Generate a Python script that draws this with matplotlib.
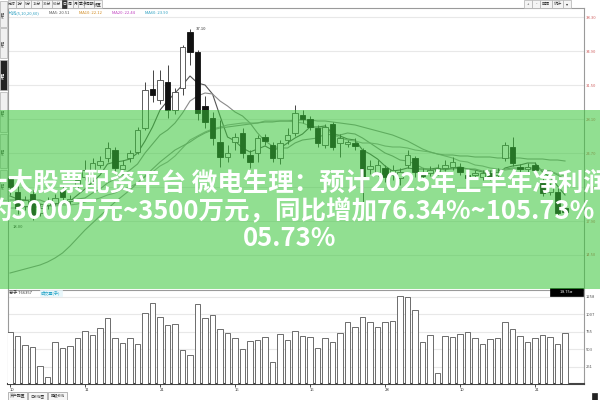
import matplotlib
matplotlib.use("Agg")
import matplotlib.pyplot as plt
from matplotlib.patches import Rectangle
import numpy as np

plt.rcParams['font.family'] = ['Noto Sans CJK SC', 'DejaVu Sans']

# 日K 数据 (开, 收, 高, 低)
opens = [22.2, 20.8, 19.4, 20.6, 18.7, 19.5, 19.7, 21.0, 19.9, 21.4,
         22.3, 23.0, 23.5, 24.2, 25.0, 23.1, 24.2, 24.8, 27.2, 31.1,
         30.0, 31.8, 29.0, 31.2, 36.8, 34.8, 29.4, 28.2, 25.8, 24.3,
         25.8, 26.7, 24.5, 24.7, 26.3, 25.5, 24.2, 26.0, 26.7, 28.5,
         28.1, 27.2, 25.5, 27.6, 25.7, 25.6, 25.7, 25.0, 23.1, 22.8,
         23.2, 22.5, 22.2, 23.5, 24.2, 22.8, 22.7, 22.8, 23.2, 23.3,
         23.3, 22.5, 22.5, 22.3, 22.7, 22.5, 24.2, 25.3, 23.3, 23.1,
         23.5, 21.7, 20.8, 20.8, 19.2]
closes = [21.3, 19.2, 20.0, 18.5, 19.2, 19.9, 20.2, 20.3, 20.1, 22.0,
          23.0, 23.7, 23.9, 25.2, 23.2, 23.5, 24.7, 27.0, 31.0, 30.5,
          32.0, 29.0, 30.8, 35.3, 34.8, 28.7, 27.8, 26.2, 24.3, 24.7,
          26.3, 24.7, 23.8, 26.2, 25.9, 24.2, 25.7, 26.5, 28.7, 28.1,
          27.3, 25.7, 27.3, 25.3, 26.2, 25.8, 25.4, 22.3, 23.4, 23.5,
          22.3, 23.0, 22.8, 24.5, 22.8, 22.4, 23.0, 23.2, 23.5, 23.8,
          22.8, 22.2, 22.7, 22.7, 22.3, 22.8, 25.5, 23.7, 23.1, 23.3,
          23.0, 20.7, 21.3, 18.7, 18.8]
highs = [22.4, 21.4, 20.4, 21.0, 19.6, 20.3, 20.6, 21.4, 20.5, 22.5,
         24.0, 24.2, 24.4, 25.8, 25.3, 24.0, 25.0, 27.3, 31.8, 33.0,
         33.0, 33.5, 31.2, 35.5, 37.1, 35.0, 30.4, 28.8, 28.0, 25.5,
         26.7, 27.2, 25.0, 26.5, 26.6, 25.8, 26.0, 27.2, 29.5, 29.0,
         28.4, 27.5, 27.6, 27.8, 26.6, 26.0, 26.2, 25.2, 24.0, 24.0,
         23.5, 23.5, 23.2, 25.0, 24.4, 23.2, 23.4, 23.6, 24.0, 24.3,
         23.7, 22.9, 23.0, 23.0, 23.0, 23.2, 25.8, 26.3, 23.6, 23.7,
         23.8, 22.2, 21.7, 21.2, 19.5]
lows = [20.5, 18.6, 19.0, 18.0, 18.4, 19.1, 19.4, 20.0, 19.6, 21.0,
        22.0, 22.7, 23.2, 23.8, 22.6, 22.8, 23.8, 24.6, 27.0, 29.8,
        29.6, 28.2, 28.6, 30.5, 33.5, 28.0, 27.2, 25.5, 23.3, 23.8,
        25.0, 24.2, 23.2, 23.8, 25.5, 23.8, 23.6, 25.6, 26.4, 27.7,
        27.0, 25.3, 25.2, 25.0, 24.3, 25.3, 25.0, 19.3, 22.6, 22.4,
        21.8, 22.0, 21.5, 23.2, 22.3, 22.0, 22.4, 22.5, 22.9, 23.0,
        22.5, 21.9, 22.2, 22.0, 22.0, 22.2, 23.9, 23.4, 22.8, 22.8,
        22.7, 20.4, 20.5, 18.4, 18.5]

ma5 = [20.4, 20.1, 20.0, 19.7, 19.6, 19.4, 19.6, 19.6, 19.9, 20.5,
       21.1, 21.8, 22.5, 23.6, 23.8, 23.9, 24.1, 24.7, 25.9, 27.3,
       29.0, 29.9, 30.7, 31.5, 32.4, 31.7, 31.5, 30.6, 28.4, 26.3,
       25.9, 25.2, 24.8, 25.1, 25.4, 25.0, 25.2, 25.7, 26.2, 26.6,
       27.3, 27.3, 27.4, 26.7, 26.4, 26.1, 26.0, 25.0, 24.6, 24.1,
       23.4, 22.9, 23.0, 23.2, 23.1, 23.1, 23.1, 23.2, 23.0, 23.2,
       23.3, 23.1, 23.0, 22.8, 22.5, 22.5, 23.2, 23.4, 23.5, 23.7,
       23.7, 22.8, 22.3, 21.4, 20.5]
ma10 = [20.0, 20.0, 20.0, 20.0, 20.0, 19.7, 19.7, 19.7, 19.8, 20.1,
        20.2, 20.7, 21.1, 21.7, 22.1, 22.5, 23.0, 23.6, 24.7, 25.6,
        26.5, 27.0, 27.7, 28.7, 29.9, 30.4, 30.7, 30.6, 29.9, 29.4,
        28.8, 28.4, 27.7, 26.7, 25.9, 25.4, 25.2, 25.2, 25.7, 26.0,
        26.1, 26.2, 26.6, 26.5, 26.5, 26.7, 26.6, 26.2, 25.7, 25.2,
        24.7, 24.4, 24.0, 23.9, 23.6, 23.2, 23.0, 23.1, 23.1, 23.1,
        23.2, 23.1, 23.1, 22.9, 22.9, 22.9, 23.1, 23.2, 23.2, 23.2,
        23.2, 23.0, 22.9, 22.5, 22.1]
ma20 = [19.2, 19.2, 19.3, 19.3, 19.3, 19.4, 19.4, 19.5, 19.5, 19.6,
        19.8, 20.0, 20.2, 20.5, 20.7, 21.1, 21.3, 21.7, 22.3, 22.8,
        23.4, 23.8, 24.4, 25.2, 26.0, 26.4, 26.8, 27.1, 27.3, 27.5,
        27.6, 27.7, 27.7, 27.7, 27.9, 27.9, 27.9, 27.9, 27.8, 27.7,
        27.4, 27.3, 27.1, 26.6, 26.2, 26.0, 25.9, 25.7, 25.7, 25.6,
        25.4, 25.3, 25.3, 25.2, 25.0, 24.9, 24.8, 24.6, 24.4, 24.2,
        23.9, 23.8, 23.5, 23.4, 23.2, 23.1, 23.0, 23.1, 23.1, 23.1,
        23.1, 23.0, 22.9, 22.6, 22.4]
ma60 = [12.7, 12.9, 13.1, 13.3, 13.5, 13.8, 14.2, 14.7, 15.4, 16.2,
        17.0, 17.7, 18.4, 19.1, 19.8, 20.4, 21.0, 21.7, 22.4, 23.1,
        23.8, 24.4, 25.0, 25.4, 25.8, 26.3, 26.7, 27.0, 27.2, 27.3,
        27.4, 27.5, 27.6, 27.7, 27.8, 27.8, 27.9, 27.9, 28.0, 28.0,
        28.0, 27.9, 27.9, 27.8, 27.7, 27.6, 27.5, 27.3, 27.1, 26.9,
        26.7, 26.5, 26.2, 25.9, 25.5, 25.1, 24.8, 24.6, 24.5, 24.5,
        24.4, 24.4, 24.3, 24.3, 24.3, 24.2, 24.2, 24.2, 24.2, 24.1,
        24.1, 24.1, 24.0, 24.0, 23.9]

volumes = [749, 691, 562, 533, 259, 101, 605, 518, 547, 662,
           763, 706, 806, 950, 662, 590, 662, 576, 1022, 1166,
           965, 850, 864, 490, 418, 1152, 950, 994, 792, 734,
           662, 504, 619, 634, 677, 317, 720, 634, 763, 691,
           677, 518, 662, 605, 734, 893, 821, 965, 893, 821,
           893, 907, 1267, 1253, 1066, 605, 706, 158, 691, 677,
           720, 749, 662, 576, 648, 662, 893, 792, 691, 605,
           662, 706, 677, 576, 734]

price_ticks = [38.30, 34.90, 31.50, 28.10, 24.70, 21.30, 17.90, 14.50]
vol_ticks = [251, 503, 755, 1007, 1258]
date_pos = [0, 10, 20, 30, 40, 50, 60, 70]
date_labels = ['10', '11', '21', '16', '16', '28', '10', '21']

title_1 = '十大股票配资平台 微电生理：预计2025年上半年净利润'
title_2 = '约3000万元~3500万元，同比增加76.34%~105.73%'
title_3 = '05.73%'

W, H = 600, 400


def fx(x):
    return x / W


def fy(y):
    return 1 - y / H


def box(x, y, w, h, fc='#f4f4f4', ec='#b0b0b0', z=3, lw=0.5, alpha=1):
    r = Rectangle((fx(x), fy(y + h)), w / W, h / H, transform=fig.transFigure,
                  facecolor=fc, edgecolor=ec, lw=lw, zorder=z, alpha=alpha)
    fig.add_artist(r)


fig = plt.figure(figsize=(6, 4), dpi=100)
fig.patch.set_facecolor('white')

ax = fig.add_axes([fx(8), fy(289), 576 / W, 281 / H])
axv = fig.add_axes([fx(8), fy(384), 576 / W, 94 / H])

n = len(closes)
xs = np.arange(n)
o = np.array(opens)
c = np.array(closes)
hi = np.array(highs)
lo = np.array(lows)
up = c >= o
top = np.maximum(o, c)
bot = np.minimum(o, c)

# 影线
ax.vlines(xs, top, hi, color='#444444', lw=0.7, zorder=3)
ax.vlines(xs, lo, bot, color='#444444', lw=0.7, zorder=3)
# 实体
ax.bar(xs[up], (top - bot)[up], bottom=bot[up], width=0.7,
       facecolor='white', edgecolor='#444444', lw=0.6, zorder=4)
ax.bar(xs[~up], (top - bot)[~up], bottom=bot[~up], width=0.7,
       facecolor='#111111', edgecolor='#111111', lw=0.6, zorder=4)

ax.plot(xs, ma5, color='#555555', lw=0.8, zorder=2)
ax.plot(xs, ma10, color='#8a8a8a', lw=0.8, zorder=2)
ax.plot(xs, ma20, color='#a0a0a0', lw=0.8, zorder=2)
ax.plot(xs, ma60, color='#909090', lw=0.8, zorder=2)

# 最高/最低标注
imax = int(np.argmax(hi))
imin = int(np.argmin(lo))
ax.annotate(f'{hi[imax]:.2f}', (imax, hi[imax]), xytext=(imax + 0.8, hi[imax]),
            fontsize=3, color='#333333', va='center')
ax.annotate(f'{lo[imin]:.2f}', (imin, lo[imin]), xytext=(imin - 1.2, lo[imin] - 0.5),
            fontsize=3, color='#333333', va='top', ha='right')

ax.set_xlim(-0.27, 76.53)
ax.set_ylim(11.1, 39.2)
ax.set_yticks(price_ticks)
ax.set_yticklabels([f'{v:.2f}' for v in price_ticks])
ax.yaxis.tick_right()
ax.tick_params(axis='y', length=0, pad=1.5, labelsize=3, labelcolor='#d06060')
ax.set_xticks([])
ax.grid(axis='y', color='#e8e8e8', lw=0.8, zorder=0)
for s in ['left', 'right', 'top']:
    ax.spines[s].set_color('#9a9a9a')
    ax.spines[s].set_linewidth(0.8)
ax.spines['bottom'].set_visible(False)

# 成交量
axv.bar(xs, volumes, width=0.7, facecolor='white', edgecolor='#555555', lw=0.6, zorder=3)
axv.set_xlim(-0.27, 76.53)
axv.set_ylim(0, 1353)
axv.set_yticks(vol_ticks)
axv.set_yticklabels([str(v) for v in vol_ticks])
axv.yaxis.tick_right()
axv.tick_params(axis='y', length=0, pad=1.5, labelsize=3, labelcolor='#555555')
axv.grid(axis='y', color='#e8e8e8', lw=0.8, zorder=0)
axv.set_xticks(date_pos)
axv.set_xticklabels(date_labels, ha='left')
axv.tick_params(axis='x', length=2, width=0.5, pad=1, labelsize=3, labelcolor='#333333')
for s in ['left', 'right', 'top']:
    axv.spines[s].set_color('#9a9a9a')
    axv.spines[s].set_linewidth(0.8)
axv.spines['bottom'].set_color('#444444')
axv.spines['bottom'].set_linewidth(1.5)

fig.text(fx(9), fy(293), '总手 766357', fontsize=3, color='#333333', va='center')
box(40, 290, 22, 6, fc='#e8f7fb', ec='#e8f7fb', z=3)
fig.text(fx(41), fy(293), '成交量(手)', fontsize=3, color='#2aa6c8', va='center', zorder=4)
box(550, 288, 33, 8, fc='black', ec='black', z=5)
fig.text(fx(566), fy(292), '18.75 ▸', fontsize=2.8, color='white', va='center', ha='center', zorder=6)

# 顶部工具栏
tabs = ['分时', '1分', '5分', '15分', '30分', '60分', '日', '周', '月', '季', '多周期', '设置']
tx = 8
for t in tabs:
    w = 3 + 2.4 * len(t)
    if t == '日':
        box(tx, 0.5, w, 7.5, fc='#333333', ec='#333333')
        fig.text(fx(tx + w / 2), fy(4.3), t, fontsize=2.8, color='white', ha='center', va='center', zorder=4)
    else:
        box(tx, 0.5, w, 7.5)
        fig.text(fx(tx + w / 2), fy(4.3), t, fontsize=2.8, color='#333333', ha='center', va='center', zorder=4)
    tx += w
rx = 524
for t in ['+', '-', '区间', '统计', '▾']:
    w = 5 + 3.2 * len(t)
    box(rx, 0.5, w, 7.5)
    fig.text(fx(rx + w / 2), fy(4.3), t, fontsize=3, color='#333333', ha='center', va='center', zorder=4)
    rx += w

# 均线信息行
info = [('均线(5,10,20,60)', '#2a9fc0'), ('MA5: 20.51', '#555555'), ('MA10: 22.12', '#d08a20'),
        ('MA20: 22.44', '#c040c0'), ('MA60: 23.90', '#2a9fc0')]
ix = 9
for t, col in info:
    fig.text(fx(ix), fy(13), t, fontsize=3, color=col, va='center')
    ix += 4 + 2.6 * len(t)

# 左侧竖排按钮
side = [(1, 26, '#f0f0f0'), (28, 30, '#f0f0f0'), (60, 30, '#222222'),
        (92, 40, '#f0f0f0'), (134, 34, '#f0f0f0'), (170, 30, '#f0f0f0')]
for y0, h, col in side:
    box(0, y0, 7, h, fc=col, ec='#b0b0b0')
    fig.text(fx(3.5), fy(y0 + h / 2), '行情', fontsize=2.6, rotation=90,
             color='white' if col == '#222222' else '#555555', ha='center', va='center', zorder=4)

# 底部标签
bx = 8
for t in ['资产配置', '日K线图', '超级K线']:
    box(bx, 392, 19, 7.5, fc='#f6f6f6', ec='#999999')
    fig.text(fx(bx + 9.5), fy(396), t, fontsize=2.8, color='#333333', ha='center', va='center', zorder=4)
    bx += 20
box(592, 393, 5, 7, fc='#222222', ec='#222222')

# 绿色横幅
box(0, 110, 600, 179, fc='#38c638', ec='none', z=10, lw=0, alpha=0.55)
tkw = dict(fontsize=18.4, fontweight='bold', color='white', va='center', zorder=11)
fig.text(fx(-18), fy(183), title_1, ha='left', **tkw)
fig.text(fx(-14), fy(211), title_2, ha='left', **tkw)
fig.text(fx(290), fy(238), title_3, ha='center', **tkw)

fig.savefig('out.png', dpi=100)
